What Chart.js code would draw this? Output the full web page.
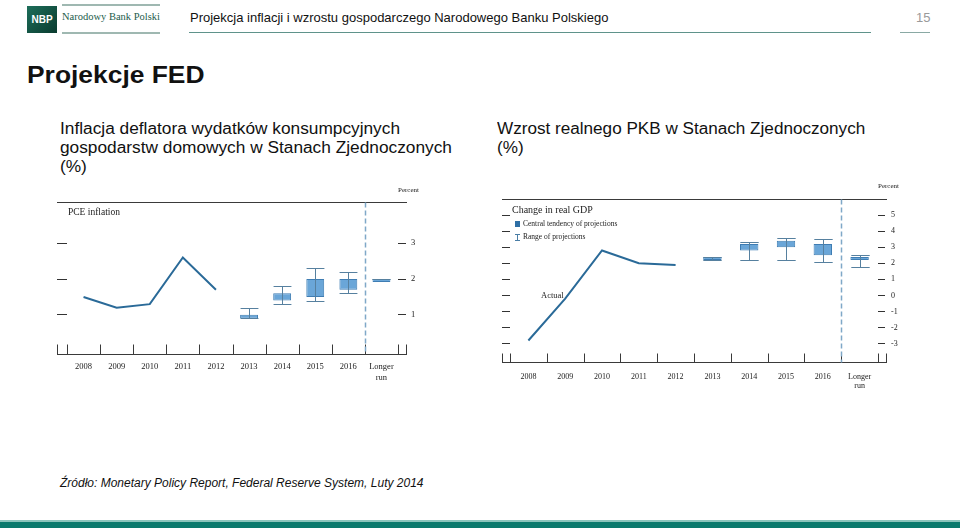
<!DOCTYPE html>
<html><head><meta charset="utf-8">
<script src="https://cdn.jsdelivr.net/npm/chart.js@4.4.0/dist/chart.umd.min.js"></script>
<style>
body{margin:0;width:960px;height:528px;position:relative;background:#fff;overflow:hidden;font-family:Arial,"Liberation Sans",sans-serif;color:#111;}
.abs{position:absolute;white-space:nowrap;}
.serif{font-family:"Liberation Serif","Times New Roman",serif;color:#222;}
canvas{position:absolute;}
</style></head><body>
<!-- header -->
<div class="abs" style="left:27px;top:6px;width:30px;height:27px;background:linear-gradient(135deg,#1d6e5a,#0a3b2f);"></div>
<div class="abs" style="left:27px;top:6px;width:30px;height:27px;line-height:27px;text-align:center;color:#fff;font-weight:bold;font-size:10px;">NBP</div>
<div class="abs" style="left:62px;top:4px;width:98px;height:1.5px;background:#9fb8b1;"></div>
<div class="abs serif" style="left:62px;top:11px;font-size:10.5px;color:#1c5b4b;">Narodowy Bank Polski</div>
<div class="abs" style="left:62px;top:32px;width:98px;height:1.5px;background:#9fb8b1;"></div>
<div class="abs" style="left:190px;top:10px;font-size:13px;color:#111;">Projekcja inflacji i wzrostu gospodarczego Narodowego Banku Polskiego</div>
<div class="abs" style="left:189px;top:32px;width:682px;height:1px;background:#5f938b;"></div>
<div class="abs" style="left:916px;top:10px;font-size:13px;color:#9a9a9a;">15</div>
<div class="abs" style="left:900px;top:32px;width:30px;height:1px;background:#8aa9a4;"></div>
<!-- title -->
<div class="abs" style="left:27px;top:61px;font-size:24px;font-weight:bold;color:#111;transform:scaleX(1.1);transform-origin:left top;">Projekcje FED</div>
<div class="abs" style="left:60px;top:119px;font-size:16px;line-height:19px;color:#111;transform:scaleX(1.08);transform-origin:left top;">Inflacja deflatora wydatków konsumpcyjnych<br>gospodarstw domowych w Stanach Zjednoczonych<br>(%)</div>
<div class="abs" style="left:497px;top:119px;font-size:16px;line-height:19px;color:#111;transform:scaleX(1.07);transform-origin:left top;">Wzrost realnego PKB w Stanach Zjednoczonych<br>(%)</div>

<canvas id="c1" width="400" height="210" style="left:40px;top:180px;width:400px;height:210px;"></canvas>
<canvas id="c2" width="420" height="220" style="left:490px;top:175px;width:420px;height:220px;"></canvas>

<!-- chart annotations -->
<div class="abs serif" style="left:398px;top:186px;font-size:7px;">Percent</div>
<div class="abs serif" style="left:68px;top:207px;font-size:9.5px;">PCE inflation</div>
<div class="abs serif" style="left:878px;top:182px;font-size:7px;">Percent</div>
<div class="abs serif" style="left:512px;top:204px;font-size:10px;">Change in real GDP</div>
<div class="abs" style="left:515px;top:221px;width:5px;height:6px;background:#2f6fa5;"></div>
<div class="abs serif" style="left:523px;top:219px;font-size:7.5px;">Central tendency of projections</div>
<div class="abs" style="left:515px;top:234px;width:5px;height:7px;border-top:1px solid #4a7ea6;border-bottom:1px solid #4a7ea6;box-sizing:border-box;"></div>
<div class="abs" style="left:517px;top:234px;width:1px;height:7px;background:#4a7ea6;"></div>
<div class="abs serif" style="left:523px;top:232px;font-size:7.5px;">Range of projections</div>
<div class="abs serif" style="left:541px;top:290px;font-size:8.5px;">Actual</div>

<!-- footer -->
<div class="abs" style="left:60px;top:476px;font-size:12px;font-style:italic;color:#111;">Źródło: Monetary Policy Report, Federal Reserve System, Luty 2014</div>
<div class="abs" style="left:0;top:520px;width:960px;height:2px;background:#8cc5bc;"></div>
<div class="abs" style="left:0;top:522px;width:960px;height:6px;background:#0b7a6d;"></div>

<script>
// ---------- data ----------
const categories = ['2008','2009','2010','2011','2012','2013','2014','2015','2016',['Longer','run']];

const pceActual      = [1.5, 1.2, 1.3, 2.6, 1.7, null, null, null, null, null];
const pceCentralLow  = [null, null, null, null, null, 0.9, 1.4, 1.5, 1.7, 2.0];
const pceCentralHigh = [null, null, null, null, null, 1.0, 1.6, 2.0, 2.0, 2.0];
const pceRangeLow    = [null, null, null, null, null, 0.9, 1.3, 1.4, 1.6, 2.0];
const pceRangeHigh   = [null, null, null, null, null, 1.2, 1.8, 2.3, 2.2, 2.0];
const pceTicks = [1, 2, 3];

const gdpActual      = [-2.8, -0.2, 2.8, 2.0, 1.9, null, null, null, null, null];
const gdpCentralLow  = [null, null, null, null, null, 2.2, 2.8, 3.0, 2.5, 2.2];
const gdpCentralHigh = [null, null, null, null, null, 2.3, 3.2, 3.4, 3.2, 2.4];
const gdpRangeLow    = [null, null, null, null, null, 2.2, 2.2, 2.2, 2.1, 1.8];
const gdpRangeHigh   = [null, null, null, null, null, 2.4, 3.3, 3.6, 3.5, 2.5];
const gdpTicks = [-3, -2, -1, 0, 1, 2, 3, 4, 5];

// ---------- plugins ----------
const whiskerPlugin = {
  id: 'whiskers',
  afterDatasetsDraw(chart, args, opts) {
    const {ctx, scales: {x, y}} = chart;
    const meta = chart.getDatasetMeta(1);
    ctx.save();
    ctx.strokeStyle = opts.color;
    ctx.lineWidth = 1;
    opts.low.forEach((lo, i) => {
      const hi = opts.high[i];
      if (lo == null || hi == null) return;
      const el = meta.data[i];
      const cx = Math.round(x.getPixelForValue(i)) + 0.5;
      const hw = el ? el.width / 2 : 9;
      const yl = Math.round(y.getPixelForValue(lo)) + 0.5;
      const yh = Math.round(y.getPixelForValue(hi)) + 0.5;
      ctx.beginPath();
      ctx.moveTo(cx, yl); ctx.lineTo(cx, yh);
      ctx.moveTo(cx - hw, yl); ctx.lineTo(cx + hw, yl);
      ctx.moveTo(cx - hw, yh); ctx.lineTo(cx + hw, yh);
      ctx.stroke();
    });
    ctx.restore();
  }
};

const framePlugin = {
  id: 'frame',
  afterDraw(chart, args, opts) {
    const {ctx, chartArea: a, scales: {x}} = chart;
    const xl = a.left - opts.extL, xr = a.right + opts.extR;
    ctx.save();
    ctx.strokeStyle = '#3a3a3a';
    ctx.lineWidth = 1;
    const top = Math.round(a.top) + 0.5, bot = Math.round(a.bottom) - 0.5;
    ctx.beginPath();
    ctx.moveTo(xl, top); ctx.lineTo(xr, top);
    ctx.moveTo(xl, bot); ctx.lineTo(xr, bot);
    ctx.moveTo(Math.round(xl) + 0.5, bot); ctx.lineTo(Math.round(xl) + 0.5, bot - opts.tick);
    ctx.moveTo(Math.round(xr) - 0.5, bot); ctx.lineTo(Math.round(xr) - 0.5, bot - opts.tick);
    for (let i = 0; i <= categories.length; i++) {
      const bx = Math.round(x.getPixelForValue(i - 0.5)) + 0.5;
      ctx.moveTo(bx, bot); ctx.lineTo(bx, bot - opts.tick);
    }
    ctx.stroke();
    // dashed separator before "Longer run"
    const sx = Math.round(x.getPixelForValue(categories.length - 1.5)) + 0.5;
    ctx.strokeStyle = '#7fa8c8';
    ctx.lineWidth = 1.5;
    ctx.setLineDash([5, 3]);
    ctx.beginPath();
    ctx.moveTo(sx, top); ctx.lineTo(sx, bot);
    ctx.stroke();
    ctx.restore();
  }
};

function makeChart(id, cfg) {
  const tickFont = {family: '"Liberation Serif", "Times New Roman", serif', size: cfg.fontSize};
  const setTicks = s => { s.ticks = cfg.ticks.map(v => ({value: v})); };
  const noPad = s => { s.paddingTop = 0; s.paddingBottom = 0; s.paddingLeft = 0; s.paddingRight = 0; };
  return new Chart(document.getElementById(id), {
    data: {
      labels: categories,
      datasets: [
        {type: 'line', data: cfg.actual, borderColor: '#2a6a98', borderWidth: 2, pointRadius: 0, tension: 0, spanGaps: false},
        {type: 'bar', data: cfg.cLow.map((v, i) => v == null ? null : [v, cfg.cHigh[i]]),
         backgroundColor: '#6aa6d8', borderColor: '#3f7db3', borderWidth: 1, borderSkipped: false,
         categoryPercentage: 1, barPercentage: cfg.barPct, minBarLength: 3}
      ]
    },
    options: {
      responsive: false, animation: false, devicePixelRatio: 1,
      layout: {padding: cfg.padding},
      plugins: {
        legend: {display: false}, tooltip: {enabled: false},
        whiskers: {low: cfg.rLow, high: cfg.rHigh, color: '#56809f'},
        frame: {extL: cfg.extL, extR: cfg.extR, tick: cfg.bTick}
      },
      scales: {
        x: {type: 'category', offset: true,
            grid: {display: false, drawTicks: false}, border: {display: false},
            ticks: {font: tickFont, color: '#222', padding: cfg.xPad, maxRotation: 0, autoSkip: false},
            afterFit: s => { s.height = cfg.xH; noPad(s); }},
        y: {type: 'linear', position: 'right', min: cfg.min, max: cfg.max,
            grid: {drawOnChartArea: false, drawTicks: true, tickLength: cfg.rTick, color: '#333'},
            border: {display: false},
            ticks: {font: tickFont, color: '#222', padding: cfg.yPad,
                    callback: v => (v < 0 ? '-' + Math.abs(v) : String(v))},
            afterBuildTicks: setTicks,
            afterFit: s => { s.width = cfg.rW; noPad(s); }},
        yL: {type: 'linear', position: 'left', min: cfg.min, max: cfg.max,
            grid: {drawOnChartArea: false, drawTicks: true, tickLength: cfg.lTick, color: '#333'},
            border: {display: false},
            ticks: {display: false},
            afterBuildTicks: setTicks,
            afterFit: s => { s.width = cfg.lTick; noPad(s); }}
      }
    },
    plugins: [whiskerPlugin, framePlugin]
  });
}

makeChart('c1', {
  actual: pceActual, cLow: pceCentralLow, cHigh: pceCentralHigh, rLow: pceRangeLow, rHigh: pceRangeHigh,
  ticks: pceTicks, min: -0.12, max: 4.15, fontSize: 8.5,
  padding: {left: 17, right: 18, top: 22, bottom: 0},
  xH: 35, xPad: 7, rW: 24, rTick: 8, lTick: 10, yPad: 5, barPct: 0.54,
  extL: 10, extR: 9, bTick: 10
});

makeChart('c2', {
  actual: gdpActual, cLow: gdpCentralLow, cHigh: gdpCentralHigh, rLow: gdpRangeLow, rHigh: gdpRangeHigh,
  ticks: gdpTicks, min: -4.2, max: 6.0, fontSize: 8,
  padding: {left: 12, right: 10, top: 24, bottom: 2},
  xH: 30, xPad: 9, rW: 22, rTick: 7, lTick: 8, yPad: 6, barPct: 0.5,
  extL: 8, extR: 9, bTick: 9
});
</script>
</body></html>
